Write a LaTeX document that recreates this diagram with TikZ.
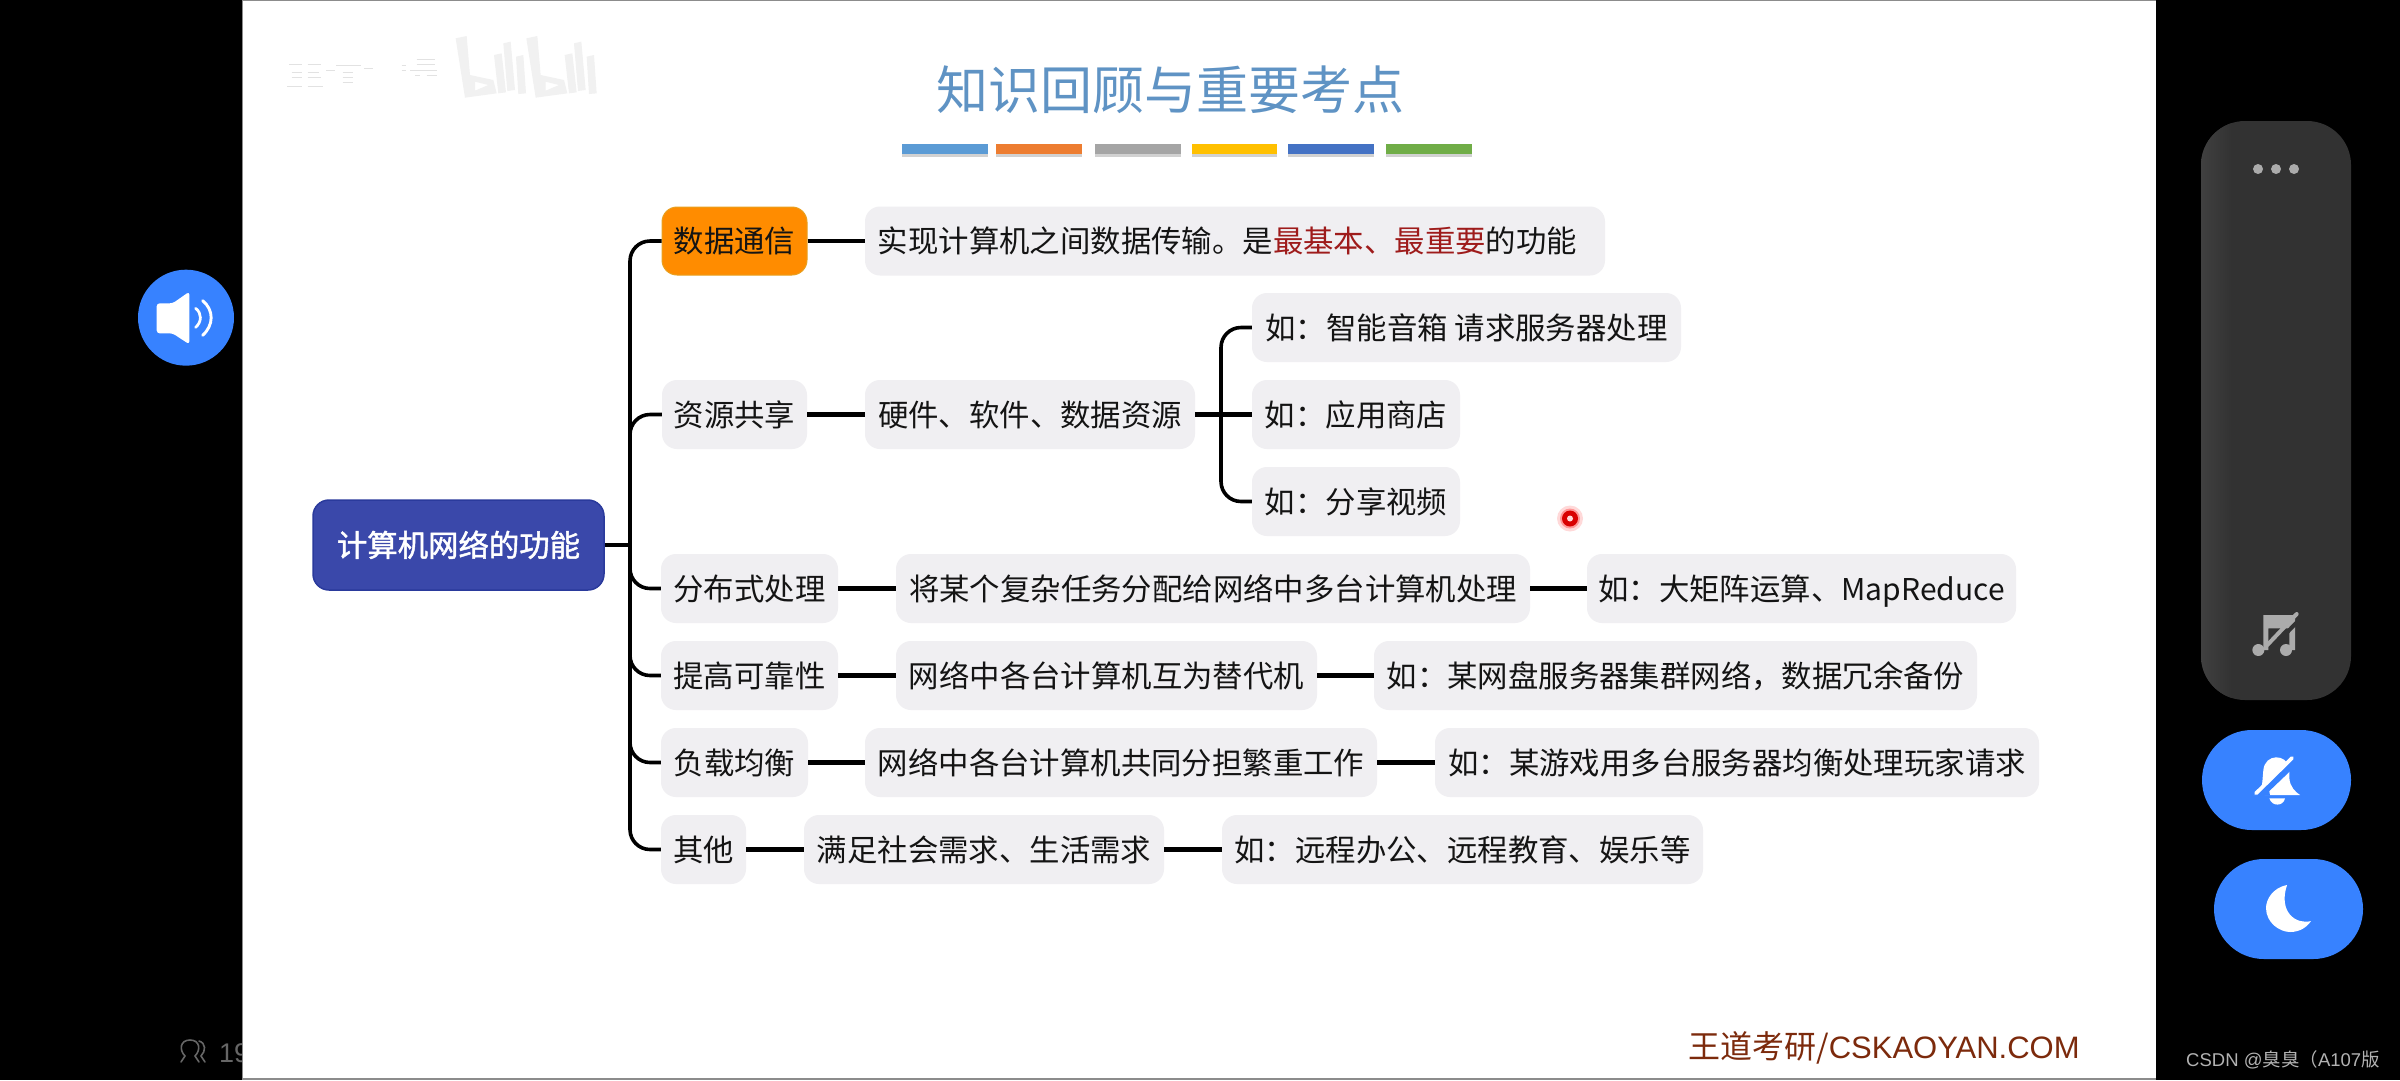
\documentclass[tikz,border=0pt]{standalone}
\usepackage{fontspec}
\setmainfont{Noto Sans CJK SC}
\newfontfamily\rootfont[FakeBold=1.5]{Noto Sans CJK SC}
\newfontfamily\arialf{Liberation Sans}
\definecolor{gfill}{HTML}{F0EFF2}
\definecolor{orangef}{HTML}{FF8C00}
\definecolor{oranged}{HTML}{E8A020}
\definecolor{rootf}{HTML}{3A48AA}
\definecolor{rootd}{HTML}{2A3A9C}
\definecolor{redt}{HTML}{9E1B1B}
\definecolor{titleb}{HTML}{5F93C4}
\definecolor{btn}{HTML}{3782FF}
\definecolor{panel}{HTML}{323232}
\definecolor{panell}{HTML}{404040}
\definecolor{iconm}{HTML}{ABABAB}
\definecolor{wood}{HTML}{7C2A0C}
\definecolor{wm}{HTML}{F1F1F1}
\definecolor{wmline}{HTML}{E2E2E2}
\tikzset{
  x=1pt,y=-1pt,
  box/.style={rectangle,rounded corners=15pt,inner sep=0pt,minimum height=69pt,
    text height=27pt,text depth=4pt,font=\fontsize{30.4pt}{34pt}\selectfont,text=black!92},
  gbox/.style={box,fill=gfill},
  obox/.style={box,fill=orangef,draw=oranged,line width=1pt},
  rootbox/.style={box,fill=rootf,draw=rootd,line width=1.5pt,text=white,minimum height=90pt,rounded corners=16pt,font=\rootfont\fontsize{30.4pt}{34pt}\selectfont},
  conn/.style={draw=black,line width=4.3pt},
  spine/.style={conn,line width=3.6pt,rounded corners=20pt},
}
\begin{document}
\begin{tikzpicture}
\useasboundingbox (0,0) rectangle (2400,1080);
\fill[black] (0,0) rectangle (2400,1080);
% left stats under the slide edge
\node[anchor=west,inner sep=0pt,text=black!60,font=\arialf\fontsize{27pt}{30pt}\selectfont] (count) at (219,1053) {19};
\begin{scope}[draw=black!60,line width=1.6pt,line cap=round]
\draw (181,1062) -- (185,1056) .. controls (179,1050) and (180,1040) .. (190,1040) .. controls (200,1040) and (201,1050) .. (195,1056) -- (199,1062);
\draw (199,1041) .. controls (206,1043) and (206,1051) .. (201,1056) -- (205,1062);
\end{scope}
% slide
\fill[black!45] (242,0) rectangle (2156,1080);
\fill[white] (243,1) rectangle (2156,1078);
% watermark
\begin{scope}[shift={(270,30)},x=0.33333pt,y=-0.33333pt]
\foreach \dx in {0,212}{
 \fill[wm,even odd rule] ({557+\dx},25) -- ({590+\dx},18) -- ({600+\dx},135) -- ({670+\dx},150) -- ({680+\dx},190) -- ({585+\dx},203) -- cycle
   ({615+\dx},155) -- ({655+\dx},165) -- ({615+\dx},182) -- cycle;
 \fill[wm] ({672+\dx},75) -- ({695+\dx},70) -- ({708+\dx},187) -- ({685+\dx},190) -- cycle;
 \fill[wm] ({700+\dx},40) -- ({722+\dx},35) -- ({735+\dx},180) -- ({712+\dx},183) -- cycle;
 \fill[wm] ({738+\dx},80) -- ({760+\dx},75) -- ({768+\dx},190) -- ({745+\dx},192) -- cycle;
}
\draw[wmline,line width=0.6pt]
  (58,103)--(97,103) (113,103)--(152,103) (65,127)--(97,127) (113,127)--(148,127)
  (65,142)--(97,142) (113,142)--(152,142) (52,170)--(97,170) (113,170)--(158,170)
  (198,106)--(272,106) (168,121)--(195,121) (218,127)--(250,127) (218,142)--(250,142) (218,157)--(250,157)
  (282,115)--(310,115) (395,105)--(408,105) (395,121)--(408,121) (420,121)--(500,121)
  (440,88)--(495,88) (440,103)--(495,103) (435,136)--(450,136) (470,136)--(500,136);
\end{scope}
% title
\node[inner sep=0pt,text=titleb,font=\fontsize{52pt}{56pt}\selectfont] (title) at (1170,90) {知识回顾与重要考点};
\foreach \xa/\xb/\c in {902/988/5B9BD5,996/1082/ED7D31,1095/1181/A5A5A5,1192/1277/FFC000,1288/1374/4472C4,1386/1472/70AD47}{
  \definecolor{barc}{HTML}{\c}
  \fill[black,opacity=.18] (\xa,147) rectangle (\xb,157);
  \fill[barc] (\xa,144) rectangle (\xb,154);
}
% nodes
\node[rootbox,minimum width=291pt] (root) at (458.5,545) {计算机网络的功能};
\coordinate (sp) at (630,545);

\node[obox,minimum width=145pt,minimum height=68pt] (a1) at (734.5,241) {数据通信};
\node[gbox,minimum width=740pt] (a2) at (1235,241) {实现计算机之间数据传输。是\textcolor{redt}{最基本、最重要}的功能\hspace*{15pt}};

\node[gbox,minimum width=145pt] (b1) at (734.5,414.5) {资源共享};
\node[gbox,minimum width=330pt] (b2) at (1030,414.5) {硬件、软件、数据资源};
\coordinate (sq) at (1221,414.5);
\node[gbox,minimum width=429pt] (b3) at (1466.5,327.5) {如：智能音箱 请求服务器处理};
\node[gbox,minimum width=208pt] (b4) at (1356,414.5) {如：应用商店};
\node[gbox,minimum width=208pt] (b5) at (1356,501.5) {如：分享视频};

\node[gbox,minimum width=177pt] (c1) at (749.5,588.5) {分布式处理};
\node[gbox,minimum width=634pt] (c2) at (1213,588.5) {将某个复杂任务分配给网络中多台计算机处理};
\node[gbox,minimum width=429pt] (c3) at (1801.5,588.5) {如：大矩阵运算、{\fontsize{30pt}{34pt}\selectfont MapReduce}};

\node[gbox,minimum width=177pt] (d1) at (749.5,675.5) {提高可靠性};
\node[gbox,minimum width=421pt] (d2) at (1106.5,675.5) {网络中各台计算机互为替代机};
\node[gbox,minimum width=603pt] (d3) at (1675.5,675.5) {如：某网盘服务器集群网络，数据冗余备份};

\node[gbox,minimum width=147pt] (e1) at (734.5,762.5) {负载均衡};
\node[gbox,minimum width=512pt] (e2) at (1121,762.5) {网络中各台计算机共同分担繁重工作};
\node[gbox,minimum width=604pt] (e3) at (1737,762.5) {如：某游戏用多台服务器均衡处理玩家请求};

\node[gbox,minimum width=85pt] (f1) at (703.5,849.5) {其他};
\node[gbox,minimum width=360pt] (f2) at (984,849.5) {满足社会需求、生活需求};
\node[gbox,minimum width=481pt] (f3) at (1462.5,849.5) {如：远程办公、远程教育、娱乐等};

% connectors
\draw[conn] (root.east) -- (sp);
\foreach \n in {a1,b1,c1,d1,e1,f1}{
  \draw[spine] (sp) |- (\n.west);
}
\foreach \p/\q in {a1/a2,b1/b2,c1/c2,c2/c3,d1/d2,d2/d3,e1/e2,e2/e3,f1/f2,f2/f3}{
  \draw[conn] (\p.east) -- (\q.west);
}
\draw[conn] (b2.east) -- (b4.west);
\draw[spine] (sq) |- (b3.west);
\draw[spine] (sq) |- (b5.west);

% laser dot
\fill[red,opacity=.15] (1570,518.5) circle[radius=13];
\fill[red,opacity=.3] (1570,518.5) circle[radius=10];
\fill[red!85!black] (1570,518.5) circle[radius=8];
\fill[white!85!red] (1570,518.5) circle[radius=3];

% footer
\node[anchor=west,inner sep=0pt,text=wood,font=\fontsize{32pt}{36pt}\selectfont] (foot) at (1688,1048) {王道考研/{\arialf\fontsize{31pt}{34pt}\selectfont CSKAOYAN.COM}};
\node[anchor=west,inner sep=0pt,text=black!30,font=\fontsize{18.5pt}{22pt}\selectfont] (csdn) at (2186,1060) {{\arialf CSDN @}臭臭（{\arialf A107}版};

% speaker button
\begin{scope}[shift={(130,265)},x=0.33333pt,y=-0.33333pt]
\fill[btn] (168,158) circle[radius=144];
\fill[white,rounded corners=3pt] (80,115) -- (128,115) -- (178,80) -- (178,238) -- (128,205) -- (80,205) -- cycle;
\draw[white,line width=2.7pt,line cap=round] (197,130) .. controls (216,145) and (216,170) .. (197,187);
\draw[white,line width=2.9pt,line cap=round] (218,107) .. controls (252,135) and (252,180) .. (218,211);
\end{scope}

% right panel
\fill[panel,rounded corners=44pt] (2201,121) rectangle (2351,700);
\begin{scope}
\clip[rounded corners=44pt] (2201,121) rectangle (2351,700);
\shade[left color=panell,right color=panel] (2201,121) rectangle (2232,700);
\end{scope}
\fill[iconm] (2258,169) circle[radius=5] (2276,169) circle[radius=5] (2294,169) circle[radius=5];
\begin{scope}[shift={(2230,600)},x=0.33333pt,y=-0.33333pt]
\fill[iconm] (100,45) -- (195,45) -- (195,150) -- (178,150) -- (178,85) -- (115,85) -- (115,150) -- (100,150) -- cycle;
\fill[iconm] (85,150) circle[radius=18];
\fill[iconm] (168,150) circle[radius=18];
\draw[panel,line width=4pt] (125,145) -- (205,62);
\draw[iconm,line width=4pt,line cap=round] (112,135) -- (200,42);
\end{scope}

\fill[btn,rounded corners=49.9pt] (2202,730) rectangle (2351,830);
\begin{scope}[shift={(2230,745)},x=0.33333pt,y=-0.33333pt]
\fill[white] (97,110) -- (100,75) .. controls (105,25) and (170,25) .. (178,70) -- (178,100) .. controls (180,125) and (195,140) .. (210,150) -- (70,150) .. controls (90,135) and (97,125) .. cycle;
\fill[white] (118,160) -- (165,160) .. controls (160,185) and (125,185) .. cycle;
\draw[btn,line width=7pt] (85,155) -- (200,45);
\fill[btn] (60,152) -- (120,152) -- (115,120) -- (95,125) -- cycle;
\draw[white,line width=3.8pt,line cap=round] (78,145) -- (186,39);
\end{scope}

\fill[btn,rounded corners=49.9pt] (2214,859) rectangle (2363,959);
\fill[white] (2287,885) .. controls (2272,888) and (2266,900) .. (2266,908) .. controls (2266,923) and (2280,932) .. (2290,932) .. controls (2300,932) and (2307,927) .. (2311,921) .. controls (2296,925) and (2278,912) .. cycle;
\end{tikzpicture}
\end{document}
